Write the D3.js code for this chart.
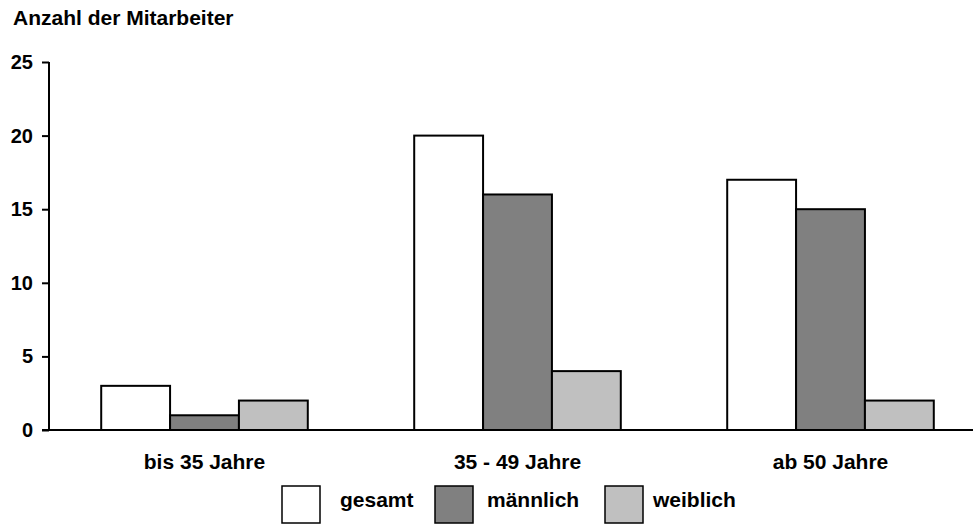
<!DOCTYPE html>
<html><head><meta charset="utf-8">
<script src="https://cdn.jsdelivr.net/npm/d3@7"></script>
<style>body{margin:0;background:#fff}svg{display:block}text{font-family:"Liberation Sans",Arial,sans-serif;font-weight:bold;fill:#000}</style>
</head><body>
<script>
const categories = ["bis 35 Jahre", "35 - 49 Jahre", "ab 50 Jahre"];
const seriesNames = ["gesamt", "männlich", "weiblich"];
const gesamt = [3, 20, 17];
const maennlich = [1, 16, 15];
const weiblich = [2, 4, 2];
const yTicks = [0, 5, 10, 15, 20, 25];
const colors = ["#ffffff", "#808080", "#c0c0c0"];
const seriesValues = [gesamt, maennlich, weiblich];

const W = 974, H = 524;
const FONT = "Liberation Sans, Arial, sans-serif";
const svg = d3.select("body").append("svg").attr("width", W).attr("height", H);

const y = d3.scaleLinear().domain([0, 25]).range([430, 62]);
const x0 = d3.scaleBand().domain(categories).range([48, 987]).paddingInner(0.34).paddingOuter(0.17);
const x1 = d3.scaleBand().domain(seriesNames).range([0, x0.bandwidth()]);

svg.append("text").attr("x", 13).attr("y", 25).attr("font-size", 21).text("Anzahl der Mitarbeiter");

// y axis
const yAxis = svg.append("g").attr("transform", "translate(49,0)")
  .call(d3.axisLeft(y).tickValues(yTicks).tickSize(7).tickPadding(9));
yAxis.select(".domain").attr("stroke", "#000").attr("stroke-width", 2).attr("d", `M0,${y(25)}V${y(0)}`);
yAxis.selectAll(".tick line").attr("stroke", "#000").attr("stroke-width", 2);
yAxis.selectAll(".tick text").attr("font-size", 20).attr("font-family", FONT).attr("font-weight", "bold").attr("fill", "#000");

// bars
categories.forEach((c, i) => {
  seriesNames.forEach((s, j) => {
    const v = seriesValues[j][i];
    svg.append("rect")
      .attr("x", x0(c) + x1(s))
      .attr("y", y(v))
      .attr("width", x1.bandwidth())
      .attr("height", y(0) - y(v))
      .attr("fill", colors[j]).attr("stroke", "#000").attr("stroke-width", 2);
  });
});

// x axis
const xAxis = svg.append("g").attr("transform", `translate(0,${y(0)})`)
  .call(d3.axisBottom(x0).tickSize(0).tickPadding(24));
xAxis.select(".domain").attr("stroke", "#000").attr("stroke-width", 2).attr("d", "M42,0H973");
xAxis.selectAll(".tick text").attr("font-size", 21).attr("font-family", FONT).attr("font-weight", "bold").attr("fill", "#000");

// legend
const legendX = [282, 435, 605];
const legendTextX = [340, 487, 653];
seriesNames.forEach((s, j) => {
  svg.append("rect").attr("x", legendX[j]).attr("y", 486).attr("width", 38).attr("height", 37)
    .attr("fill", colors[j]).attr("stroke", "#000").attr("stroke-width", 1.5);
  svg.append("text").attr("x", legendTextX[j]).attr("y", 507).attr("font-size", 21).text(s);
});
</script>
</body></html>
